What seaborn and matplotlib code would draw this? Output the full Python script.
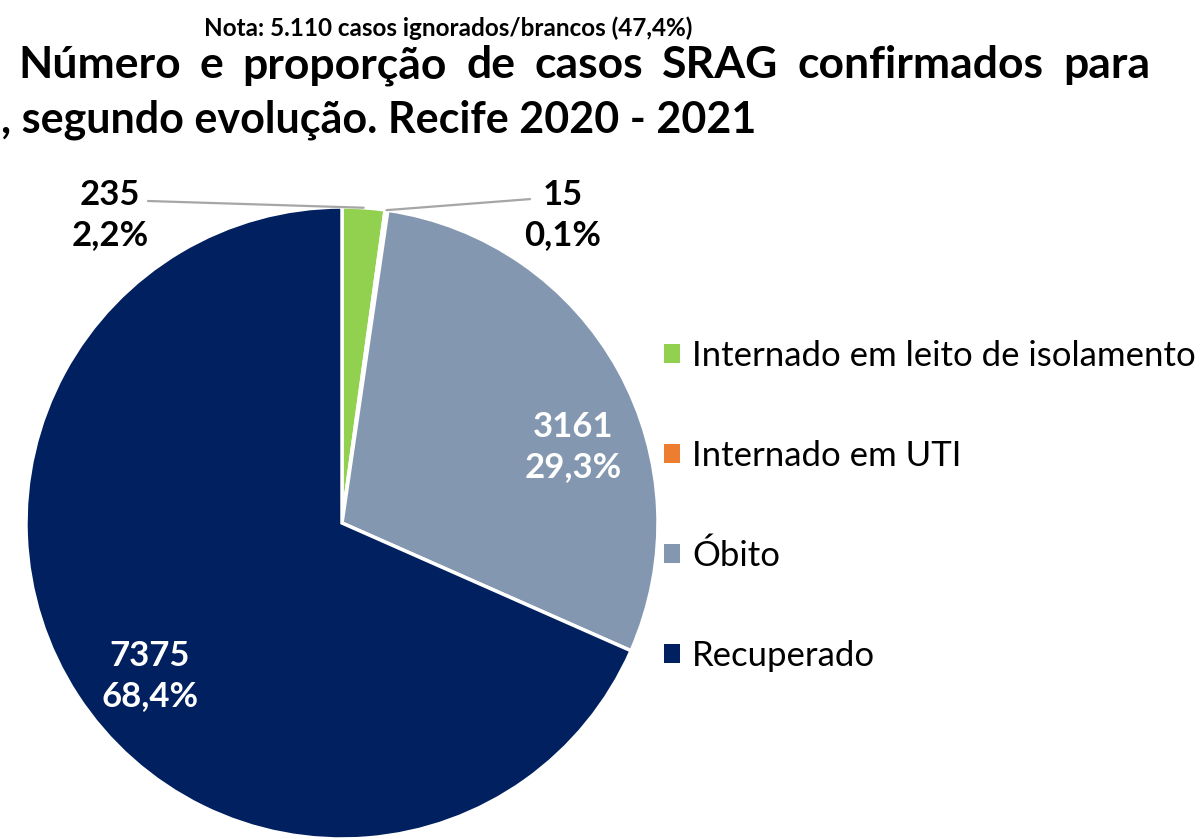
import matplotlib
matplotlib.use("Agg")
import matplotlib.pyplot as plt
from matplotlib.patches import Patch
import seaborn as sns
import numpy as np

# dados do gráfico (evolução dos casos SRAG confirmados)
categorias = ["Internado em leito de isolamento", "Internado em UTI", "Óbito", "Recuperado"]
casos = [235, 15, 3161, 7375]
percentuais = ["2,2%", "0,1%", "29,3%", "68,4%"]
cores = ["#92D050", "#ED7D31", "#8497B0", "#002060"]

titulo_l1 = "Número e proporção de casos SRAG confirmados para"
titulo_l2 = ", segundo evolução. Recife 2020 - 2021"
nota = "Nota: 5.110 casos ignorados/brancos (47,4%)"

sns.set_theme(style="white")
plt.rcParams['font.family'] = ['Lato', 'DejaVu Sans']
plt.rcParams['text.color'] = 'black'

W, H = 1201, 839
fig = plt.figure(figsize=(W / 100, H / 100), dpi=100)
fig.patch.set_facecolor('white')

# pizza: centro e raio em pixels da figura
R = 316
cx, cy = 342, 523
ax = fig.add_axes([(cx - R) / W, (H - cy - R) / H, 2 * R / W, 2 * R / H])

wedges, _ = ax.pie(
    casos,
    colors=sns.color_palette(cores),
    startangle=90,
    counterclock=False,
    radius=1,
    wedgeprops=dict(edgecolor='white', linewidth=2.5),
)
ax.set_xlim(-1, 1)
ax.set_ylim(-1, 1)
ax.axis('off')

# rótulos: dentro para Óbito/Recuperado, fora (com linha guia) para os pequenos
pos_rotulos = [(-0.734, 0.975), (0.699, 0.975), (0.731, 0.240), (-0.608, -0.484)]
inicio_guia = [(-0.614, 1.019), (0.595, 1.025), None, None]
cor_texto = ['black', 'black', 'white', 'white']

for w, n, p, pos, guia, ct in zip(wedges, casos, percentuais, pos_rotulos, inicio_guia, cor_texto):
    ax.text(pos[0], pos[1], f"{n}\n{p}", ha='center', va='center', fontsize=25,
            fontweight='bold', color=ct, linespacing=1.3, clip_on=False)
    if guia is not None:
        ang = np.deg2rad((w.theta1 + w.theta2) / 2)
        ax.annotate('', xy=(np.cos(ang), np.sin(ang)), xytext=guia,
                    arrowprops=dict(arrowstyle='-', color='#A6A6A6', lw=1.6,
                                    shrinkA=0, shrinkB=0),
                    annotation_clip=False)

# legenda
handles = [Patch(facecolor=c, edgecolor='none') for c in cores]
fig.legend(handles, categorias, loc='center left', bbox_to_anchor=(664 / W, 1 - 506 / H),
           frameon=False, fontsize=25, handlelength=0.45, handleheight=0.45,
           handletextpad=0.36, labelspacing=1.95, borderpad=0, borderaxespad=0)

# nota
fig.text(448 / W, 1 - 36 / H, nota, ha='center', va='baseline', fontsize=17.5,
         fontweight='bold')

# título: primeira linha justificada entre x=18 e x=1150
renderer = fig.canvas.get_renderer()
palavras = titulo_l1.split()
objs = [fig.text(0, 1 - 78 / H, p, fontsize=32, fontweight='bold', va='baseline')
        for p in palavras]
larguras = [t.get_window_extent(renderer).width for t in objs]
x0, x1 = 18, 1150
gap = (x1 - x0 - sum(larguras)) / (len(palavras) - 1)
x = x0
for t, lw in zip(objs, larguras):
    t.set_x(x / W)
    x += lw + gap

fig.text(1 / W, 1 - 132 / H, titulo_l2, ha='left', va='baseline', fontsize=31,
         fontweight='bold')

fig.savefig("out.png", dpi=100, facecolor='white')
